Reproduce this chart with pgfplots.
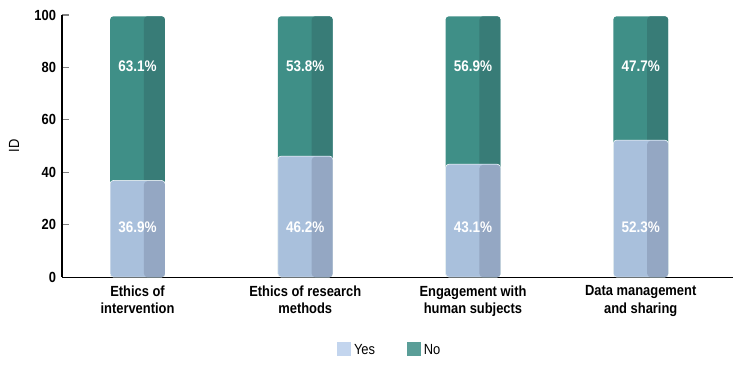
\documentclass[border=0pt]{standalone}
\usepackage{pgfplots}
\pgfplotsset{compat=1.18}
\usepackage{fontspec}
\setmainfont{Liberation Sans}[FakeStretch=0.88]
\definecolor{yesL}{HTML}{A9C0DC}
\definecolor{yesD}{HTML}{94A7C3}
\definecolor{noL}{HTML}{3F8F87}
\definecolor{noD}{HTML}{387C77}
\definecolor{yesLeg}{HTML}{C3D5EE}
\definecolor{noLeg}{HTML}{5A9E98}
\begin{document}
\begin{tikzpicture}
\begin{axis}[
  scale only axis,
  width=503pt, height=196.5pt,
  xmin=-0.45, xmax=3.55,
  ymin=0, ymax=100,
  axis x line*=bottom, axis y line*=left,
  ytick={0,20,40,60,80,100},
  xtick={0,1,2,3},
  xticklabels={Ethics of\\intervention, Ethics of research\\methods, Engagement with\\human subjects, Data management\\and sharing},
  xticklabel style={align=center, font=\fontsize{11}{13}\selectfont\bfseries, yshift=-3pt},
  yticklabel style={font=\fontsize{11}{13}\selectfont\bfseries, xshift=-1pt},
  /pgf/number format/assume math mode=true,
  major x tick style={draw=none},
  tick align=inside,
  major tick length=5pt,
  ylabel={ID},
  ylabel style={font=\fontsize{11}{13}\selectfont, at={(rel axis cs:0,0.5)}, anchor=center, yshift=36pt},
  axis line style={line width=0.8pt},
  y tick style={line width=0.8pt},
  legend style={draw=none, at={(axis description cs:0.489,-0.279)}, anchor=center, legend columns=2, font=\fontsize{11}{13}\selectfont, /tikz/every even column/.append style={column sep=22pt}},
  legend image code/.code={\fill[#1] (0pt,-4.5pt) rectangle (10.5pt,6pt);},
]
% No: full bars to 100 (drawn underneath)
\addplot[ybar, bar width=0.327, bar shift=0, fill=noL, draw=none, rounded corners=2.5pt, forget plot] coordinates {(0,99.5) (1,99.5) (2,99.5) (3,99.5)};
\addplot[ybar, bar width=0.125, bar shift=0.101, fill=noD, draw=none, rounded corners=2.5pt, forget plot] coordinates {(0,99.5) (1,99.5) (2,99.5) (3,99.5)};
% Yes bars
\addplot[ybar, bar width=0.327, bar shift=0, fill=yesL, draw=white, line width=0.4pt, rounded corners=2.5pt, forget plot] coordinates {(0,36.9) (1,46.2) (2,43.1) (3,52.3)};
\addplot[ybar, bar width=0.125, bar shift=0.101, fill=yesD, draw=none, rounded corners=2.5pt, forget plot] coordinates {(0,36.6) (1,45.9) (2,42.8) (3,52.0)};
% legend entries
\addlegendimage{draw=none, fill=yesLeg}
\addlegendentry{Yes}
\addlegendimage{draw=none, fill=noLeg}
\addlegendentry{No}
% labels
\addplot[only marks, mark=none, nodes near coords, point meta=explicit symbolic,
  every node near coord/.style={anchor=center, text=white, font=\fontsize{11.5}{13}\selectfont\bfseries}] coordinates {
 (0,19.2)[36.9\%] (1,19.2)[46.2\%] (2,19.2)[43.1\%] (3,19.2)[52.3\%]
 (0,80.6)[63.1\%] (1,80.6)[53.8\%] (2,80.6)[56.9\%] (3,80.6)[47.7\%]
};
\end{axis}
\pgfresetboundingbox
\path ([xshift=-46.5pt,yshift=11.25pt]current axis.north west) rectangle ([yshift=-66.75pt]current axis.south east);
\end{tikzpicture}
\end{document}
